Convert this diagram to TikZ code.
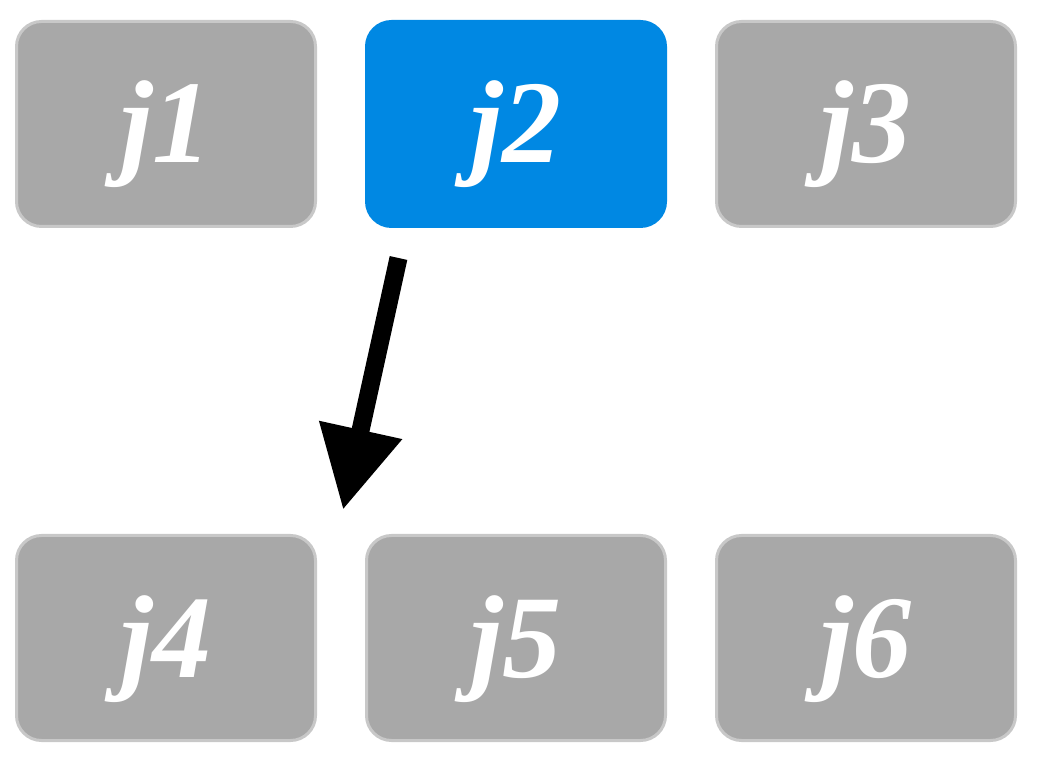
\documentclass[tikz,border=0pt]{standalone}
\usepackage{fontspec}
\newfontface\jobfont{Liberation Serif Bold Italic}
\usetikzlibrary{arrows.meta}
\definecolor{jobgray}{HTML}{A8A8A8}
\definecolor{jobedge}{HTML}{C8C8C8}
\definecolor{jobblue}{HTML}{0088E3}

\begin{document}
\begin{tikzpicture}[x=0.5pt,y=0.5pt,
  job/.style={rectangle, rounded corners=12.5pt, fill=jobgray, draw=jobedge,
    line width=1.5pt, minimum width=149.5pt, minimum height=102.5pt,
    text=white, font=\fontsize{59}{60}\jobfont,
    text height=45pt, text depth=6pt},
  active/.style={job, fill=jobblue, draw=jobblue},
  move/.style={line width=9pt, -{Triangle[length=41pt,width=40pt]}}]
\useasboundingbox (0,0) rectangle (1038,760);
% top row
\node[job]    (j1) at (166,636) {j1};
\node[active] (j2) at (516,636) {j2};
\node[job]    (j3) at (866,636) {j3};
% bottom row
\node[job] (j4) at (166,122) {j4};
\node[job] (j5) at (516,122) {j5};
\node[job] (j6) at (866,122) {j6};
% move of j2
\coordinate (from) at (398.5,502);
\coordinate (to) at (343,250);
\draw[move] (from) -- (to);
\end{tikzpicture}
\end{document}
